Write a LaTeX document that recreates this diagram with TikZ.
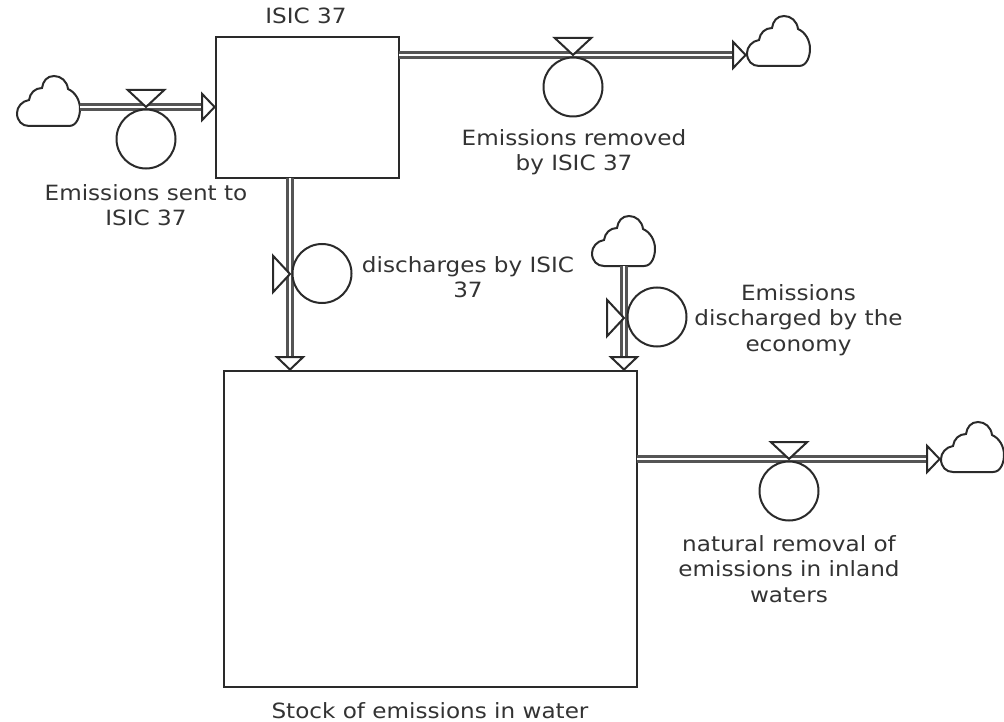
\documentclass[tikz,border=0pt]{standalone}
\usepackage{fontspec}
\setmainfont[FakeStretch=1.1]{DejaVu Sans}
\usetikzlibrary{arrows.meta,shapes.geometric}
\definecolor{ink}{HTML}{2A2A2A}
\definecolor{word}{HTML}{333333}
\tikzset{
  stockbox/.style={draw=ink,line width=2.2pt,fill=white,inner sep=0pt,outer sep=0pt},
  ratecircle/.style={circle,draw=ink,line width=2pt,fill=white,inner sep=0pt,outer sep=0pt,minimum size=59pt},
  flowline/.style={draw=ink!80,line width=3pt,double=white,double distance=1.8pt,
    -{Triangle[open,fill=white,length=15pt,width=31pt,line width=2pt,color=ink]}},
  valvetri/.style={isosceles triangle,isosceles triangle apex angle=94,draw=ink,line width=2pt,
    fill=white,inner sep=0pt,outer sep=0pt,minimum height=17pt,anchor=apex},
  caption/.style={text=word,align=center,font=\fontsize{21}{25.5}\selectfont},
  cloudicon/.pic={
    \node[inner sep=0pt,outer sep=0pt,minimum width=63pt,minimum height=50pt] (-box) at (31.5,25) {};
    \draw[ink,line width=2pt,fill=white] (12,50) -- (52,50)
      .. controls (60,50) and (63,40) .. (63,33) .. controls (63,24) and (58,16) .. (51,13)
      .. controls (50,5) and (44,0) .. (37,0) .. controls (30,0) and (26,5) .. (25,12)
      .. controls (18,12) and (13,17) .. (12,24) .. controls (5,25) and (0,31) .. (0,37)
      .. controls (0,45) and (5,50) .. (12,50) -- cycle;
  }
}
\begin{document}
\begin{tikzpicture}[x=1pt,y=-1pt]
  \useasboundingbox (0,0) rectangle (1004,722);
  \node[stockbox,minimum width=183pt,minimum height=141pt] (isic) at (307.5,107.5) {};
  \node[stockbox,minimum width=413pt,minimum height=316pt] (water) at (430.5,529) {};
  \pic (cloudA) at (17,76) {cloudicon};
  \pic (cloudB) at (747,16) {cloudicon};
  \pic (cloudC) at (592,216) {cloudicon};
  \pic (cloudD) at (941,422) {cloudicon};
  \coordinate (valveA) at (146,107);
  \coordinate (valveB) at (573,55);
  \coordinate (valveC) at (290,274);
  \coordinate (valveD) at (624,318);
  \coordinate (valveE) at (789,459);
  \draw[flowline] (cloudA-box.east |- valveA) -- (isic.west |- valveA);
  \draw[flowline] (isic.east |- valveB) -- (cloudB-box.west |- valveB);
  \draw[flowline] (isic.south -| valveC) -- (water.north -| valveC);
  \draw[flowline] (cloudC-box.south -| valveD) -- (water.north -| valveD);
  \draw[flowline] (water.east |- valveE) -- (cloudD-box.west |- valveE);
  \node[valvetri,shape border rotate=270] (tapA) at (valveA) {};
  \node[valvetri,shape border rotate=270] (tapB) at (valveB) {};
  \node[valvetri,shape border rotate=0] (tapC) at (valveC) {};
  \node[valvetri,shape border rotate=0] (tapD) at (valveD) {};
  \node[valvetri,shape border rotate=270] (tapE) at (valveE) {};
  \node[ratecircle] (rateA) at (146,139) {};
  \node[ratecircle] (rateB) at (573,87) {};
  \node[ratecircle] (rateC) at (322,273.5) {};
  \node[ratecircle] (rateD) at (657,317) {};
  \node[ratecircle] (rateE) at (789,491) {};
  \node[caption] (labIsic) at (306,16) {ISIC 37};
  \node[caption] (labWater) at (430,711) {Stock of emissions in water};
  \node[caption] (labA) at (146,205) {Emissions sent to\\ISIC 37};
  \node[caption] (labB) at (574,152) {Emissions removed\\by ISIC 37};
  \node[caption] (labC) at (468,277) {discharges by ISIC\\37};
  \node[caption] (labD) at (798.5,320) {Emissions\\discharged by the\\economy};
  \node[caption] (labE) at (789,569) {natural removal of\\emissions in inland\\waters};
\end{tikzpicture}
\end{document}
